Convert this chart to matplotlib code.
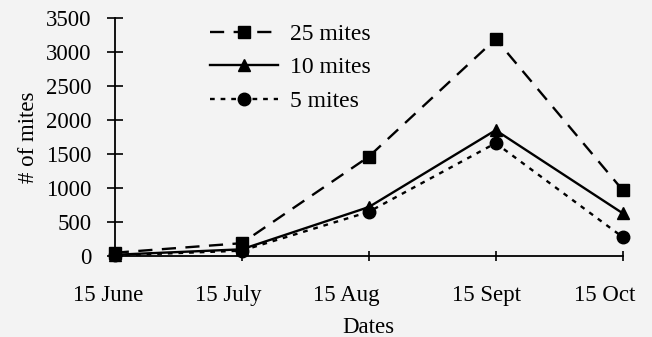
import matplotlib
matplotlib.use("Agg")
import matplotlib.pyplot as plt
from matplotlib.transforms import ScaledTranslation

# Data
dates = ["15 June", "15 July", "15 Aug", "15 Sept", "15 Oct"]
mites_25 = [50, 190, 1460, 3190, 970]
mites_10 = [20, 100, 720, 1850, 630]
mites_5 = [10, 80, 650, 1660, 280]
yticks = [0, 500, 1000, 1500, 2000, 2500, 3000, 3500]

plt.rcParams["font.family"] = ["Liberation Serif", "DejaVu Serif"]
plt.rcParams["font.size"] = 16.5

fig = plt.figure(figsize=(6.52, 3.37), dpi=100)
fig.patch.set_facecolor("#f3f3f3")
ax = fig.add_axes([0.176, 0.24, 0.779, 0.707])
ax.set_facecolor("none")

x = range(len(dates))
ax.plot(x, mites_25, color="black", lw=1.7, ls=(0, (6, 4)), marker="s",
        ms=9, clip_on=False, label="25 mites")
ax.plot(x, mites_10, color="black", lw=1.7, ls="-", marker="^",
        ms=9, clip_on=False, label="10 mites")
ax.plot(x, mites_5, color="black", lw=1.7, ls=(0, (2, 2.5)), marker="o",
        ms=9, clip_on=False, label="5 mites")

ax.set_xlim(0, 4)
ax.set_ylim(0, 3500)
ax.set_xticks(list(x))
ax.set_xticklabels(dates)
ax.set_yticks(yticks)
for s in ["top", "right"]:
    ax.spines[s].set_visible(False)
for s in ["left", "bottom"]:
    ax.spines[s].set_linewidth(1.3)
ax.tick_params(axis="y", direction="inout", length=11, width=1.2, pad=11)
ax.tick_params(axis="x", direction="inout", length=7, width=1.2, pad=17)

# the printed labels sit a little left of their ticks
shifts = [-7, -13, -22, -9, -18]
for lab, dx in zip(ax.get_xticklabels(), shifts):
    lab.set_transform(lab.get_transform() +
                      ScaledTranslation(dx / 100, 0, fig.dpi_scale_trans))

ax.set_xlabel("Dates", labelpad=8)
ax.set_ylabel("# of mites", labelpad=5)

fig.legend(loc="upper left", bbox_to_anchor=(0.322, 0.93), frameon=False,
           borderpad=0, borderaxespad=0,
           handlelength=2.9, labelspacing=0.5, handletextpad=0.5,
           fontsize=17)

fig.savefig("out.png", dpi=100, facecolor=fig.get_facecolor())
